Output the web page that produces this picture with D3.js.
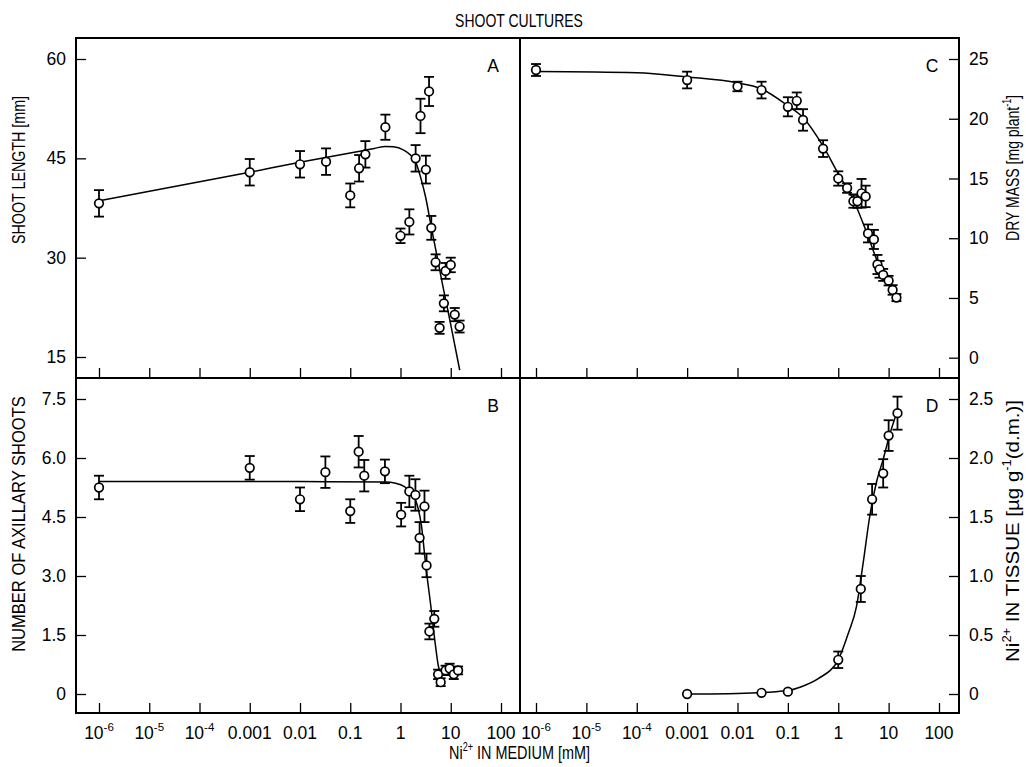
<!DOCTYPE html>
<html>
<head>
<meta charset="utf-8">
<script src="https://cdn.jsdelivr.net/npm/d3@7"></script>
<style>
  body { margin: 0; background: #fff; }
  text { font-family: "Liberation Sans", Arial, sans-serif; fill: #000; }
</style>
</head>
<body>
<div id="chart"></div>
<script>
// ---- data ----
// x axis: Ni2+ in medium [mM], log scale, same for all four panels
const xTicks = [1e-6, 1e-5, 1e-4, 0.001, 0.01, 0.1, 1, 10, 100]
const xTickBase = ["10", "10", "10", "0.001", "0.01", "0.1", "1", "10", "100"]
const xTickExp = ["-6", "-5", "-4", "", "", "", "", "", ""]

// A - shoot length [mm]
const concA = [1e-6, 0.001, 0.01, 0.033, 0.1, 0.15, 0.2, 0.5, 1, 1.5, 2, 2.5, 3.2, 3.7, 4.1, 5, 6, 7.3, 7.9, 10, 12, 15]
const lengthA = [38.2, 42.9, 44.1, 44.5, 39.4, 43.5, 45.6, 49.7, 33.3, 35.4, 45.0, 51.4, 43.3, 55.1, 34.5, 29.3, 19.4, 23.1, 28.0, 28.9, 21.4, 19.6]
const errA = [2.0, 2.0, 2.0, 2.0, 1.8, 2.0, 2.0, 1.9, 1.1, 1.9, 2.0, 2.6, 2.1, 2.2, 1.8, 1.2, 0.9, 1.2, 1.2, 1.1, 1.0, 0.9]
const fitConcA = [1e-6, 0.001, 0.01, 0.1, 0.3, 0.5, 0.72, 1.16, 1.58, 1.99, 2.5, 3.15, 4.08, 5.37, 7.28, 10, 15.1]
const fitLengthA = [38.6, 42.9, 44.4, 45.8, 46.5, 46.8, 46.75, 46.25, 45.5, 44.5, 42.2, 39.2, 34.7, 30.1, 25.0, 19.9, 13.0]
const yTicksA = [15, 30, 45, 60]
const yLabelsA = ["15", "30", "45", "60"]

// B - number of axillary shoots
const concB = [1e-6, 0.001, 0.01, 0.032, 0.1, 0.147, 0.19, 0.49, 1.03, 1.5, 1.98, 2.4, 3.0, 3.3, 3.76, 4.7, 5.6, 6.3, 7.9, 9.5, 11.5, 14]
const shootsB = [5.25, 5.75, 4.95, 5.64, 4.65, 6.16, 5.55, 5.66, 4.56, 5.15, 5.06, 3.97, 4.77, 3.27, 1.59, 1.91, 0.5, 0.3, 0.6, 0.65, 0.5, 0.6]
const errB = [0.3, 0.3, 0.3, 0.4, 0.3, 0.4, 0.4, 0.3, 0.3, 0.4, 0.4, 0.4, 0.4, 0.3, 0.2, 0.2, 0.12, 0.1, 0.12, 0.12, 0.12, 0.1]
const fitConcB = [1e-6, 0.01, 0.5, 0.8, 1.2, 1.6, 2.1, 2.6, 3.2, 4.1, 4.9, 5.7, 6.5, 8, 15]
const fitShootsB = [5.4, 5.4, 5.39, 5.36, 5.27, 5.12, 4.85, 4.3, 3.24, 2.14, 1.29, 0.7, 0.52, 0.5, 0.5]
const yTicksB = [0, 1.5, 3, 4.5, 6, 7.5]
const yLabelsB = ["0", "1.5", "3.0", "4.5", "6.0", "7.5"]

// C - dry mass [mg plant-1]
const concC = [1e-6, 0.001, 0.01, 0.03, 0.1, 0.15, 0.2, 0.5, 1, 1.5, 2, 2.4, 2.9, 3.5, 3.9, 5.1, 6.0, 6.6, 7.8, 10, 12, 14.3]
const massC = [24.08, 23.24, 22.7, 22.4, 21.0, 21.5, 19.9, 17.5, 15.0, 14.2, 13.1, 13.1, 13.76, 13.5, 10.4, 9.9, 7.8, 7.4, 6.93, 6.45, 5.67, 5.03]
const errC = [0.5, 0.7, 0.4, 0.7, 0.8, 0.7, 0.9, 0.7, 0.6, 0.4, 0.55, 0.55, 1.2, 0.9, 0.75, 0.8, 0.8, 0.7, 0.5, 0.4, 0.4, 0.3]
const fitConcC = [1e-6, 1e-4, 0.001, 0.01, 0.028, 0.095, 0.2, 0.5, 1, 2, 3.5, 6.6, 14.3]
const fitMassC = [23.95, 23.85, 23.5, 23.0, 22.55, 21.15, 20.1, 17.7, 15.4, 13.2, 10.7, 7.6, 5.0]
const yTicksC = [0, 5, 10, 15, 20, 25]
const yLabelsC = ["0", "5", "10", "15", "20", "25"]

// D - Ni2+ in tissue
const concD = [0.001, 0.03, 0.1, 1, 2.8, 4.7, 7.8, 10, 15]
const tissueD = [0.0, 0.01, 0.02, 0.29, 0.89, 1.65, 1.87, 2.19, 2.38]
const errD = [0, 0, 0, 0.07, 0.11, 0.13, 0.12, 0.13, 0.14]
const fitConcD = [0.001, 0.01, 0.1, 0.18, 0.4, 1.0, 1.6, 2.3, 3.1, 4.2, 5.7, 7.8, 10.7, 15]
const fitTissueD = [0.0, 0.005, 0.03, 0.06, 0.13, 0.29, 0.52, 0.74, 1.1, 1.5, 1.79, 1.99, 2.21, 2.4]
const yTicksD = [0, 0.5, 1, 1.5, 2, 2.5]
const yLabelsD = ["0", "0.5", "1.0", "1.5", "2.0", "2.5"]

// ---- layout ----
const dims = { width: 1026, height: 767, left: 76, right: 959, top: 38, mid: 378, bottom: 713, midX: 520 }

const svg = d3.select('#chart')
  .append('svg')
  .attr('width', dims.width)
  .attr('height', dims.height)

// scales
const xLeft = d3.scaleLog().domain([1e-6, 100]).range([99, 501])
const xRight = d3.scaleLog().domain([1e-6, 100]).range([536, 939])
const yA = d3.scaleLinear().domain([15, 60]).range([357, 59])
const yB = d3.scaleLinear().domain([0, 7.5]).range([694, 399])
const yC = d3.scaleLinear().domain([0, 25]).range([357.7, 59])
const yD = d3.scaleLinear().domain([0, 2.5]).range([694, 399])

const tickFont = 17.5

// frame + dividers
svg.append('rect')
  .attr('x', dims.left).attr('y', dims.top)
  .attr('width', dims.right - dims.left).attr('height', dims.bottom - dims.top)
  .attr('fill', 'none').attr('stroke', '#000').attr('stroke-width', 2)
svg.append('line')
  .attr('x1', dims.left).attr('x2', dims.right).attr('y1', dims.mid).attr('y2', dims.mid)
  .attr('stroke', '#000').attr('stroke-width', 2)
svg.append('line')
  .attr('x1', dims.midX).attr('x2', dims.midX).attr('y1', dims.top).attr('y2', dims.bottom)
  .attr('stroke', '#000').attr('stroke-width', 2)

function styleAxis(g) {
  g.select('.domain').remove()
  g.selectAll('.tick line').attr('stroke', '#000').attr('stroke-width', 1.3)
  g.selectAll('.tick text')
    .attr('font-family', '"Liberation Sans", Arial, sans-serif')
    .attr('font-size', tickFont)
}

function xAxis(x, yPos, withLabels) {
  svg.append('g')
    .attr('transform', `translate(0,${yPos})`)
    .call(d3.axisBottom(x).tickValues(xTicks).tickSize(-10).tickFormat(''))
    .call(styleAxis)
  if (!withLabels) return
  const labels = svg.append('g').selectAll('text')
    .data(xTicks)
    .join('text')
    .attr('x', d => x(d))
    .attr('y', yPos + 26)
    .attr('text-anchor', 'middle')
    .attr('font-size', tickFont)
  labels.append('tspan').text((d, i) => xTickBase[i])
  labels.filter((d, i) => xTickExp[i] !== '')
    .append('tspan')
    .attr('dy', -8)
    .attr('font-size', 11.5)
    .text(d => xTickExp[xTicks.indexOf(d)])
}

function yAxisLeft(y, ticks, labels) {
  svg.append('g')
    .attr('transform', `translate(${dims.left},0)`)
    .call(d3.axisLeft(y).tickValues(ticks).tickSize(-10).tickPadding(10)
      .tickFormat((d, i) => labels[i]))
    .call(styleAxis)
}

function yAxisRight(y, ticks, labels) {
  svg.append('g')
    .attr('transform', `translate(${dims.right},0)`)
    .call(d3.axisRight(y).tickValues(ticks).tickSize(-10).tickPadding(10)
      .tickFormat((d, i) => labels[i]))
    .call(styleAxis)
}

function panel(x, y, conc, vals, errs, fitConc, fitVals) {
  const g = svg.append('g')
  const fit = fitConc.map((c, i) => [c, fitVals[i]])
  const line = d3.line()
    .x(d => x(d[0]))
    .y(d => y(d[1]))
    .curve(d3.curveMonotoneX)
  g.append('path')
    .attr('d', line(fit))
    .attr('fill', 'none')
    .attr('stroke', '#000')
    .attr('stroke-width', 1.5)

  const pts = conc.map((c, i) => ({ c: c, v: vals[i], e: errs[i] }))
  const bars = g.append('g').attr('stroke', '#000').attr('stroke-width', 1.8)
  const withErr = pts.filter(d => d.e > 0)
  bars.selectAll('.bar').data(withErr).join('line').attr('class', 'bar')
    .attr('x1', d => x(d.c)).attr('x2', d => x(d.c))
    .attr('y1', d => y(d.v - d.e)).attr('y2', d => y(d.v + d.e))
  bars.selectAll('.capTop').data(withErr).join('line').attr('class', 'capTop')
    .attr('x1', d => x(d.c) - 5).attr('x2', d => x(d.c) + 5)
    .attr('y1', d => y(d.v + d.e)).attr('y2', d => y(d.v + d.e))
  bars.selectAll('.capBot').data(withErr).join('line').attr('class', 'capBot')
    .attr('x1', d => x(d.c) - 5).attr('x2', d => x(d.c) + 5)
    .attr('y1', d => y(d.v - d.e)).attr('y2', d => y(d.v - d.e))

  g.append('g').selectAll('circle')
    .data(pts)
    .join('circle')
    .attr('cx', d => x(d.c))
    .attr('cy', d => y(d.v))
    .attr('r', 4.3)
    .attr('fill', '#fff')
    .attr('stroke', '#000')
    .attr('stroke-width', 1.7)
}

// axes
xAxis(xLeft, dims.mid, false)
xAxis(xRight, dims.mid, false)
xAxis(xLeft, dims.bottom, true)
xAxis(xRight, dims.bottom, true)
yAxisLeft(yA, yTicksA, yLabelsA)
yAxisLeft(yB, yTicksB, yLabelsB)
yAxisRight(yC, yTicksC, yLabelsC)
yAxisRight(yD, yTicksD, yLabelsD)

// data
panel(xLeft, yA, concA, lengthA, errA, fitConcA, fitLengthA)
panel(xLeft, yB, concB, shootsB, errB, fitConcB, fitShootsB)
panel(xRight, yC, concC, massC, errC, fitConcC, fitMassC)
panel(xRight, yD, concD, tissueD, errD, fitConcD, fitTissueD)

// panel letters
const letters = ["A", "B", "C", "D"]
const letterPos = [[493, 66], [493, 406], [932, 66], [932, 406]]
svg.append('g').selectAll('text')
  .data(letters)
  .join('text')
  .attr('x', (d, i) => letterPos[i][0])
  .attr('y', (d, i) => letterPos[i][1])
  .attr('dy', '0.36em')
  .attr('text-anchor', 'middle')
  .attr('font-size', 17.5)
  .text(d => d)

// condensed titles (narrow font look), parts: [text, isSuperscript]
function title(parts, cx, cy, rotate, targetLen) {
  const t = svg.append('text')
    .attr('text-anchor', 'middle')
    .attr('dy', '0.36em')
    .attr('font-size', 19)
  let raised = false
  parts.forEach(p => {
    const s = t.append('tspan').text(p[0])
    if (p[1]) { s.attr('font-size', 12).attr('dy', -8); raised = true }
    else if (raised) { s.attr('dy', 8); raised = false }
  })
  const w = t.node().getBBox().width
  t.attr('transform', `translate(${cx},${cy}) rotate(${rotate}) scale(${targetLen / w},1)`)
}

title([["SHOOT CULTURES", false]], 519, 20, 0, 128)
title([["Ni", false], ["2+", true], [" IN MEDIUM [mM]", false]], 519.5, 752, 0, 141)
title([["SHOOT LENGTH [mm]", false]], 18, 170, -90, 148)
title([["NUMBER OF AXILLARY SHOOTS", false]], 18, 524, -90, 256)
title([["DRY MASS [mg plant", false], ["-1", true], ["]", false]], 1012, 168, -90, 146)
title([["Ni", false], ["2+", true], [" IN TISSUE [µg g", false], ["-1", true], ["(d.m.)]", false]], 1012, 531, -90, 262)
</script>
</body>
</html>
